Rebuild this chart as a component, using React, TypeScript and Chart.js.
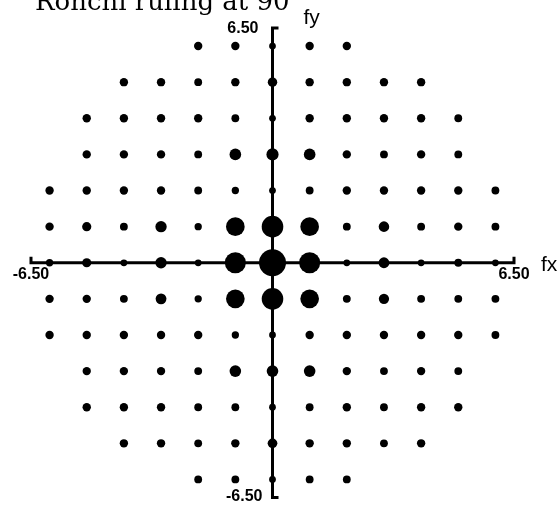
import React, { useEffect, useRef } from 'react';
import { Chart, registerables } from 'chart.js';

Chart.register(...registerables);

// ---- Text ----
const TITLE = 'Ronchi ruling at 90°';
const X_TITLE = 'fx';
const Y_TITLE = 'fy';

// ---- Axis range and tick labels ----
const AXIS_MIN = -6.5;
const AXIS_MAX = 6.5;
const X_TICK_VALUES = [-6.5, 6.5];
const X_TICK_LABELS = ['-6.50', '6.50'];
const Y_TICK_VALUES = [6.5, -6.5];
const Y_TICK_LABELS = ['6.50', '-6.50'];

// ---- Spectrum grid: spatial frequencies ----
const FX = [-6, -5, -4, -3, -2, -1, 0, 1, 2, 3, 4, 5, 6];
const FY = [6, 5, 4, 3, 2, 1, 0, -1, -2, -3, -4, -5, -6];

// ---- Relative amplitude of each diffraction order (null = no dot) ----
const N = null;
const ROW_P6 = [N, N, N, N, 0.31, 0.31, 0.25, 0.31, 0.31, N, N, N, N];
const ROW_P5 = [N, N, 0.31, 0.31, 0.29, 0.31, 0.35, 0.31, 0.31, 0.31, 0.31, N, N];
const ROW_P4 = [N, 0.31, 0.31, 0.31, 0.31, 0.29, 0.25, 0.31, 0.31, 0.31, 0.31, 0.29, N];
const ROW_P3 = [N, 0.31, 0.31, 0.31, 0.29, 0.43, 0.45, 0.43, 0.31, 0.29, 0.31, 0.29, N];
const ROW_P2 = [0.31, 0.31, 0.31, 0.31, 0.29, 0.27, 0.25, 0.29, 0.31, 0.31, 0.31, 0.31, 0.29];
const ROW_P1 = [0.31, 0.34, 0.29, 0.42, 0.27, 0.69, 0.8, 0.69, 0.29, 0.39, 0.29, 0.31, 0.29];
const ROW_0 = [0.27, 0.34, 0.25, 0.42, 0.25, 0.78, 1.0, 0.78, 0.25, 0.4, 0.25, 0.29, 0.25];
const ROW_M1 = [0.31, 0.31, 0.29, 0.4, 0.27, 0.69, 0.8, 0.69, 0.29, 0.38, 0.29, 0.29, 0.29];
const ROW_M2 = [0.31, 0.31, 0.31, 0.31, 0.31, 0.27, 0.25, 0.31, 0.31, 0.31, 0.31, 0.31, 0.29];
const ROW_M3 = [N, 0.31, 0.31, 0.31, 0.29, 0.43, 0.43, 0.43, 0.31, 0.29, 0.31, 0.29, N];
const ROW_M4 = [N, 0.31, 0.31, 0.31, 0.29, 0.29, 0.25, 0.29, 0.31, 0.29, 0.31, 0.31, N];
const ROW_M5 = [N, N, 0.31, 0.31, 0.29, 0.31, 0.36, 0.31, 0.31, 0.29, 0.31, N, N];
const ROW_M6 = [N, N, N, N, 0.29, 0.29, 0.25, 0.29, 0.29, N, N, N, N];

const AMPLITUDE_ROWS = [
  ROW_P6, ROW_P5, ROW_P4, ROW_P3, ROW_P2, ROW_P1, ROW_0,
  ROW_M1, ROW_M2, ROW_M3, ROW_M4, ROW_M5, ROW_M6,
];

const MAX_RADIUS = 13.5;
const INK = '#000000';

const crossAxesPlugin = {
  id: 'crossAxes',
  beforeDatasetsDraw(chart: any) {
    const { ctx, scales } = chart;
    const xs = scales.x;
    const ys = scales.y;
    const x0 = xs.getPixelForValue(0);
    const y0 = ys.getPixelForValue(0);
    const xl = xs.getPixelForValue(AXIS_MIN);
    const xr = xs.getPixelForValue(AXIS_MAX);
    const yt = ys.getPixelForValue(AXIS_MAX);
    const yb = ys.getPixelForValue(AXIS_MIN);
    ctx.save();
    ctx.strokeStyle = INK;
    ctx.lineWidth = 3;
    ctx.lineJoin = 'miter';
    ctx.lineCap = 'butt';
    ctx.beginPath();
    ctx.moveTo(xl, y0 - 6);
    ctx.lineTo(xl, y0);
    ctx.lineTo(xr, y0);
    ctx.lineTo(xr, y0 - 6);
    ctx.stroke();
    ctx.beginPath();
    ctx.moveTo(x0 + 6, yt);
    ctx.lineTo(x0, yt);
    ctx.lineTo(x0, yb);
    ctx.lineTo(x0 + 6, yb);
    ctx.stroke();
    ctx.restore();
  },
  afterDraw(chart: any) {
    const { ctx, scales } = chart;
    const xs = scales.x;
    const ys = scales.y;
    const x0 = xs.getPixelForValue(0);
    const y0 = ys.getPixelForValue(0);
    const xr = xs.getPixelForValue(AXIS_MAX);
    const yt = ys.getPixelForValue(AXIS_MAX);
    ctx.save();
    ctx.fillStyle = INK;
    ctx.textBaseline = 'alphabetic';

    // tick labels
    ctx.font = 'bold 16px "Liberation Sans", Arial, sans-serif';
    ctx.textAlign = 'center';
    X_TICK_VALUES.forEach((v, i) => {
      ctx.fillText(X_TICK_LABELS[i], xs.getPixelForValue(v), y0 + 16);
    });
    ctx.textAlign = 'right';
    Y_TICK_VALUES.forEach((v, i) => {
      const py = ys.getPixelForValue(v);
      const isTop = v > 0;
      ctx.fillText(Y_TICK_LABELS[i], x0 - (isTop ? 14 : 10), py + (isTop ? 5 : 3));
    });

    // axis titles
    ctx.font = '21px "Liberation Sans", Arial, sans-serif';
    ctx.textAlign = 'left';
    ctx.fillText(X_TITLE, xr + 27, y0 + 8);
    ctx.fillText(Y_TITLE, x0 + 31, yt - 4);

    // chart title (cropped at the top in the original)
    ctx.font = '26px "DejaVu Serif", serif';
    ctx.fillText(TITLE, 35, 10);
    ctx.restore();
  },
};

export default function App() {
  const canvasRef = useRef<HTMLCanvasElement | null>(null);

  useEffect(() => {
    const canvas = canvasRef.current;
    if (!canvas) return;
    const points: { x: number; y: number; a: number }[] = [];
    FY.forEach((fy, r) => {
      FX.forEach((fx, c) => {
        const a = AMPLITUDE_ROWS[r][c];
        if (a !== null && a !== undefined) points.push({ x: fx, y: fy, a });
      });
    });

    const chart = new Chart(canvas, {
      type: 'scatter',
      data: {
        datasets: [
          {
            data: points,
            backgroundColor: INK,
            borderColor: INK,
            borderWidth: 0,
            pointRadius: (ctx: any) => MAX_RADIUS * (ctx.raw ? ctx.raw.a : 0.3),
            pointHoverRadius: (ctx: any) => MAX_RADIUS * (ctx.raw ? ctx.raw.a : 0.3),
          } as any,
        ],
      },
      options: {
        animation: false,
        responsive: false,
        devicePixelRatio: 1,
        layout: { padding: { left: 31, right: 43, top: 28, bottom: 6 } },
        scales: {
          x: { type: 'linear', min: AXIS_MIN, max: AXIS_MAX, display: false },
          y: { type: 'linear', min: AXIS_MIN, max: AXIS_MAX, display: false },
        },
        plugins: {
          legend: { display: false },
          tooltip: { enabled: false },
          title: { display: false },
        },
        events: [],
      } as any,
      plugins: [crossAxesPlugin],
    });
    return () => chart.destroy();
  }, []);

  return (
    <div
      style={{
        position: 'fixed',
        left: 0,
        top: 0,
        width: 557,
        height: 511,
        background: '#ffffff',
        overflow: 'hidden',
      }}
    >
      <canvas ref={canvasRef} width={557} height={511} style={{ display: 'block' }} />
    </div>
  );
}
